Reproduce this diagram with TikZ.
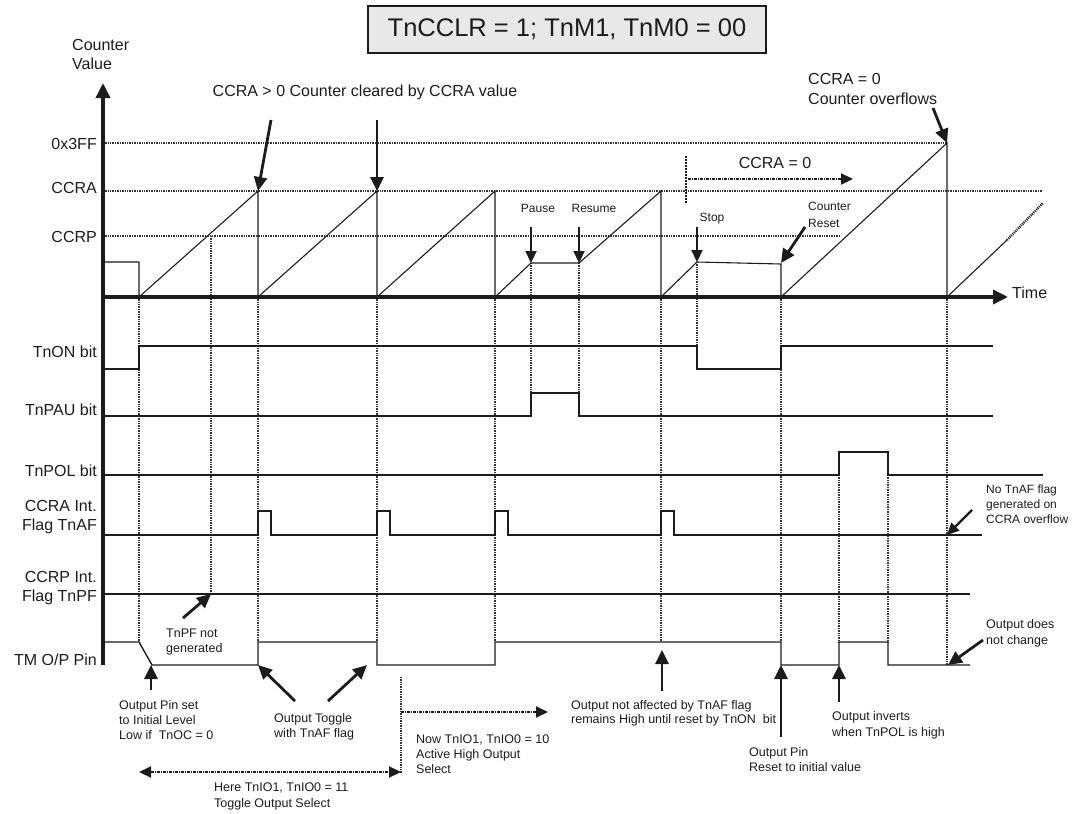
\documentclass[tikz,border=0pt]{standalone}
\usepackage{fontspec}
\setmainfont{Liberation Sans}
\usetikzlibrary{arrows.meta}
\definecolor{ink}{HTML}{1C1C1C}
\definecolor{boxgray}{HTML}{E8E8E8}
\begin{document}
\begin{tikzpicture}[x=1pt,y=-1pt,
  lbl/.style={font=\fontsize{16}{19}\selectfont, inner sep=0pt, text=ink},
  sml/.style={font=\fontsize{12.5}{15}\selectfont, inner sep=0pt, align=left, text=ink},
  tny/.style={font=\fontsize{12}{16}\selectfont, inner sep=0pt, align=left, text=ink},
  wave/.style={line width=1.4pt, draw=ink, line join=miter},
  ramp/.style={line width=1.1pt, draw=ink},
  refln/.style={line width=2pt, draw=ink!90, dash pattern=on 1pt off 0.7pt},
  axisln/.style={line width=3.5pt, draw=ink, -{Triangle[length=15pt,width=14pt]}},
  bigarr/.style={line width=2.8pt, draw=ink, -{Triangle[length=14pt,width=13pt]}},
  medarr/.style={line width=2.2pt, draw=ink, -{Triangle[length=12pt,width=11pt]}},
  dotarr/.style={line width=2pt, draw=ink, dash pattern=on 3pt off 1pt on 1pt off 1pt},
  dtip/.style={-{Triangle[length=12pt,width=11pt]}},
  dtips/.style={{Triangle[length=12pt,width=11pt]}-{Triangle[length=12pt,width=11pt]}},
]
\useasboundingbox (0,0) rectangle (1077,814);

% title
\node[draw=ink, line width=1.3pt, fill=boxgray, minimum width=398pt, minimum height=47pt,
      font=\fontsize{25.5}{30}\selectfont, text=ink] (title) at (567,29.5) {TnCCLR = 1; TnM1, TnM0 = 00};

% axis labels
\node[lbl, anchor=north west, align=left] (cv) at (72,39) {Counter\\Value};
\node[lbl, anchor=east] (l3ff) at (97,144) {0x3FF};
\node[lbl, anchor=east] (lccra) at (97,188) {CCRA};
\node[lbl, anchor=east] (lccrp) at (97,237) {CCRP};
\node[lbl, anchor=west] (ltime) at (1012,293) {Time};

% row labels
\node[lbl, anchor=east] (lon) at (97,352) {TnON bit};
\node[lbl, anchor=east] (lpau) at (97,410) {TnPAU bit};
\node[lbl, anchor=east] (lpol) at (97,471) {TnPOL bit};
\node[lbl, anchor=north east, align=right] (laf) at (97,500) {CCRA Int.\\Flag TnAF};
\node[lbl, anchor=north east, align=right] (lpf) at (97,571) {CCRP Int.\\Flag TnPF};
\node[lbl, anchor=east] (lop) at (97,660) {TM O/P Pin};

% reference lines
\draw[refln] (103,143) -- (947,143);
\draw[refln] (103,191) -- (1042,191);
\draw[refln] (103,236) -- (840,236);

% dotted verticals
\foreach \x/\ya/\yb in {139/297/642, 211/236/594, 258/297/642, 377/297/642, 495/297/642,
  531/263/393, 579/263/393, 661/297/642, 697/262/346, 781/297/642, 839/475/642,
  888/475/642, 947/297/665}
  \draw[refln] (\x,\ya) -- (\x,\yb);

% counter waveform
\draw[ramp] (103,262) -- (139,262) -- (139,297) -- (258,191) -- (258,297) -- (377,191) -- (377,297)
  -- (495,191) -- (495,297) -- (531,263) -- (579,263) -- (661,191) -- (661,297) -- (697,262)
  -- (781,264) -- (781,297) -- (947,143) -- (947,297) -- (1007,240);
\draw[line width=2.4pt, draw=ink, dash pattern=on 1pt off 1pt] (1007,240) -- (1043,203);

% axes
\coordinate (ybot) at (103,665);
\coordinate (ytop) at (103,83);
\coordinate (xl) at (103,297);
\coordinate (xr) at (1008,297);
\draw[axisln] (ybot) -- (ytop);
\draw[axisln] (xl) -- (xr);

% signals
\draw[wave] (103,369) -- (139,369) -- (139,346) -- (697,346) -- (697,369) -- (781,369) -- (781,346) -- (993,346);
\draw[wave] (103,416) -- (531,416) -- (531,393) -- (579,393) -- (579,416) -- (993,416);
\draw[wave] (103,475) -- (839,475) -- (839,452) -- (888,452) -- (888,475) -- (1043,475);
\draw[wave] (103,535) -- (258,535) -- (258,511) -- (271,511) -- (271,535) -- (377,535) -- (377,511)
  -- (390,511) -- (390,535) -- (495,535) -- (495,511) -- (508,511) -- (508,535) -- (661,535)
  -- (661,511) -- (674,511) -- (674,535) -- (982,535);
\draw[wave] (103,594) -- (970,594);
\draw[wave] (103,642) -- (139,642) -- (152,665) -- (258,665) -- (258,642) -- (377,642) -- (377,665)
  -- (495,665) -- (495,642) -- (781,642) -- (781,665) -- (839,665) -- (839,642) -- (888,642)
  -- (888,665) -- (970,665);

% top annotations
\node[lbl] (clr) at (365,92) {CCRA > 0 Counter cleared by CCRA value};
\coordinate (c1s) at (271,120); \coordinate (c1e) at (258,191);
\coordinate (c2s) at (377,120); \coordinate (c2e) at (377,191);
\draw[bigarr] (c1s) -- (c1e);
\draw[bigarr] (c2s) -- (c2e);

\node[lbl, anchor=north west, align=left, font=\fontsize{16}{20}\selectfont] (ovf) at (808,73) {CCRA = 0\\Counter overflows};
\coordinate (ovs) at (933,108); \coordinate (ove) at (947,143);
\draw[bigarr] (ovs) -- (ove);

\node[lbl] (cz) at (775,163) {CCRA = 0};
\coordinate (czt) at (686,156); \coordinate (czb) at (686,204);
\coordinate (czs) at (688,179); \coordinate (cze) at (853,179);
\draw[line width=2pt, draw=ink, dash pattern=on 2pt off 1pt] (czt) -- (czb);
\draw[dotarr, dtip] (czs) -- (cze);

\node[tny] (pause) at (538,208) {Pause};
\node[tny] (resume) at (594,208) {Resume};
\node[tny] (stop) at (712,219) {Stop};
\node[tny, anchor=north west, font=\fontsize{12}{16.5}\selectfont] (creset) at (808,202) {Counter\\Reset};
\coordinate (pa) at (531,227); \coordinate (pb) at (531,263);
\coordinate (ra) at (579,227); \coordinate (rb) at (579,263);
\coordinate (sa) at (697,227); \coordinate (sb) at (697,262);
\coordinate (cra) at (805,227); \coordinate (crb) at (781,263);
\draw[medarr] (pa) -- (pb);
\draw[medarr] (ra) -- (rb);
\draw[medarr] (sa) -- (sb);
\draw[bigarr] (cra) -- (crb);

% right annotations
\node[tny, anchor=north west, font=\fontsize{12}{15}\selectfont] (noaf) at (986,485) {No TnAF flag\\generated on\\CCRA overflow};
\coordinate (nas) at (972,510); \coordinate (nae) at (947,535);
\draw[medarr] (nas) -- (nae);
\node[sml, anchor=north west, font=\fontsize{12.5}{16}\selectfont] (nochg) at (986,619) {Output does\\not change};
\coordinate (ncs) at (983,640); \coordinate (nce) at (948,665);
\draw[bigarr] (ncs) -- (nce);

% bottom annotations
\node[sml, anchor=north west] (tnpf) at (166,629) {TnPF not\\generated};
\coordinate (tps) at (183,618); \coordinate (tpe) at (211,594);
\draw[bigarr] (tps) -- (tpe);

\node[sml, anchor=north west] (opset) at (119,700) {Output Pin set\\to Initial Level\\Low if~ TnOC = 0};
\coordinate (oss) at (151,690); \coordinate (ose) at (151,665);
\draw[bigarr] (oss) -- (ose);

\node[sml, anchor=north west] (otog) at (274,713) {Output Toggle\\with TnAF flag};
\coordinate (t1s) at (295,701); \coordinate (t1e) at (258,665);
\coordinate (t2s) at (328,701); \coordinate (t2e) at (367,665);
\draw[bigarr] (t1s) -- (t1e);
\draw[bigarr] (t2s) -- (t2e);

\coordinate (nvt) at (401,677); \coordinate (nvb) at (401,773);
\draw[refln] (nvt) -- (nvb);
\coordinate (nws) at (401,712); \coordinate (nwe) at (548,712);
\draw[dotarr, dtip] (nws) -- (nwe);
\node[sml, anchor=north west] (now) at (416,735) {Now TnIO1, TnIO0 = 10\\Active High Output\\Select};

\coordinate (hl) at (139,772); \coordinate (hr) at (401,772);
\draw[dotarr, dtips] (hl) -- (hr);
\node[sml, anchor=north west, font=\fontsize{12.5}{16}\selectfont] (here) at (214,783) {Here TnIO1, TnIO0 = 11\\Toggle Output Select};

\node[sml, anchor=north west, font=\fontsize{12.5}{14}\selectfont] (naff) at (571,700) {Output not affected by TnAF flag\\remains High until reset by TnON~ bit};
\coordinate (nfs) at (662,691); \coordinate (nfe) at (662,650);
\draw[bigarr] (nfs) -- (nfe);

\node[sml, anchor=north west] (oreset) at (749,747) {Output Pin\\Reset to initial value};
\coordinate (ors) at (781,737); \coordinate (ore) at (781,665);
\draw[bigarr] (ors) -- (ore);

\node[sml, anchor=north west, font=\fontsize{12.5}{16}\selectfont] (oinv) at (832,711) {Output inverts\\when TnPOL is high};
\coordinate (ois) at (839,702); \coordinate (oie) at (839,665);
\draw[bigarr] (ois) -- (oie);

\end{tikzpicture}
\end{document}
